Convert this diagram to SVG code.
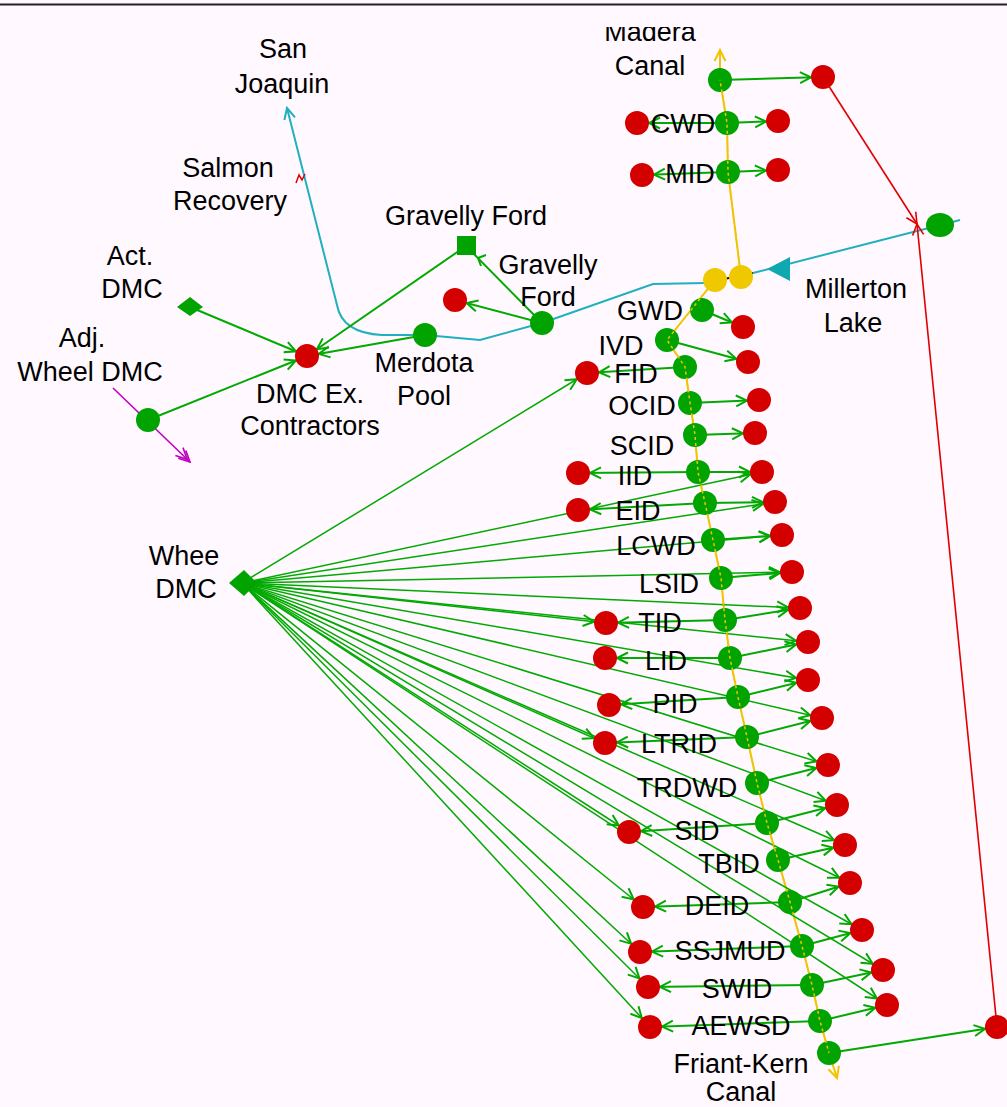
<svg xmlns="http://www.w3.org/2000/svg" width="1007" height="1107" viewBox="0 0 1007 1107">
<style>
text{font-family:"Liberation Sans",Arial,sans-serif;font-size:27px;fill:#000;text-anchor:middle}
.g{fill:#00a300}
.r{fill:#d40000}
.y{fill:#f0c800}
.gl{stroke:#00aa00;stroke-width:2;fill:none;marker-end:url(#ag)}
.fan{stroke:#00aa00;stroke-width:1.5;fill:none;marker-end:url(#ag)}
.rl{stroke:#e00000;stroke-width:1.6;fill:none;marker-end:url(#ar)}
.yl{stroke:#f0c400;stroke-width:2;fill:none}
.cy{stroke:#20b0c0;stroke-width:2;fill:none}
</style>
<defs>
<marker id="ag" viewBox="0 0 30 14" markerWidth="30" markerHeight="14" refX="26" refY="7" orient="auto" markerUnits="userSpaceOnUse"><path d="M3,1.5 L14,7 L3,12.5" fill="none" stroke="#00aa00" stroke-width="2"/></marker>
<marker id="ar" viewBox="0 0 16 14" markerWidth="16" markerHeight="14" refX="14" refY="7" orient="auto" markerUnits="userSpaceOnUse"><path d="M3,1.5 L14,7 L3,12.5" fill="none" stroke="#e00000" stroke-width="1.6"/></marker>
<marker id="ay" viewBox="0 0 16 14" markerWidth="16" markerHeight="14" refX="14" refY="7" orient="auto" markerUnits="userSpaceOnUse"><path d="M3,1.5 L14,7 L3,12.5" fill="none" stroke="#f0c400" stroke-width="2"/></marker>
<marker id="ac" viewBox="0 0 16 14" markerWidth="16" markerHeight="14" refX="14" refY="7" orient="auto" markerUnits="userSpaceOnUse"><path d="M3,1.5 L14,7 L3,12.5" fill="none" stroke="#20b0c0" stroke-width="2"/></marker>
<marker id="am" viewBox="0 0 20 14" markerWidth="20" markerHeight="14" refX="18" refY="7" orient="auto" markerUnits="userSpaceOnUse"><path d="M3,1.5 L14,7 L3,12.5 M7,1.5 L18,7 L7,12.5" fill="none" stroke="#c000c0" stroke-width="1.6"/></marker>
<clipPath id="clipTop"><rect x="0" y="27" width="1007" height="1080"/></clipPath>
</defs>
<rect width="1007" height="1107" fill="#fff8fe"/>
<line x1="0" y1="4.5" x2="1007" y2="4.5" stroke="#222" stroke-width="2"/>

<g id="connectors">
  <!-- yellow canal -->
  <path class="yl" d="M741,277 L728,172 L727,123 L720,80 L720,50" marker-end="url(#ay)"/>
  <path class="yl" d="M715,280 L667,340 L685,367 L690,403 L695,435 L698,472 L705,503 L713,540 L721,578 L725,620 L730,658 L738,697 L747,737 L757,783 L767,823 L778,860 L790,902 L802,946 L812,985 L820,1021 L829,1053 L837,1078" marker-end="url(#ay)"/>
  <!-- cyan river -->
  <path class="cy" d="M960,220 L753,273"/>
  <polygon points="767,269 790,257 790,281" fill="#10a8b0"/>
  <line x1="705" y1="283" x2="753" y2="273" stroke="#111" stroke-width="2"/>
  <path class="cy" d="M705,283 L653,284 L542,323 L480,340 L425,335 L382,335 Q342,333 337,305 L287,108" marker-end="url(#ac)"/>
  <!-- red lines -->
  <path class="rl" d="M823,77 L917,224"/>
  <path class="rl" d="M997,1027 L917,224"/>
  <!-- magenta -->
  <path d="M113,388 L190,462" stroke="#c000c0" stroke-width="1.6" fill="none" marker-end="url(#am)"/>
  <!-- upper left green -->
  <path class="gl" d="M190,307 L307,356"/>
  <path class="gl" d="M148,420 L307,356"/>
  <path class="gl" d="M466,246 L307,356"/>
  <path class="gl" d="M425,335 L307,356"/>
  <path class="gl" d="M542,323 L466,246" style="marker-end:none"/>
  <path d="M478,258 L486,255 M478,258 L481,266" stroke="#00aa00" stroke-width="2" fill="none"/>
  <path class="gl" d="M542,323 L455,300"/>
  <!-- rows -->
  <path class="gl" d="M720,80 L823,77"/>
  <path class="gl" d="M727,123 L778,121"/>
  <path class="gl" d="M727,123 L637,123"/>
  <path class="gl" d="M728,172 L778,170"/>
  <path class="gl" d="M728,172 L642,175"/>
  <path class="gl" d="M702,310 L743,327"/>
  <path class="gl" d="M667,340 L748,362"/>
  <path class="gl" d="M685,367 L587,373"/>
  <path class="gl" d="M690,403 L759,400"/>
  <path class="gl" d="M695,435 L755,433"/>
  <path class="gl" d="M698,472 L762,472"/>
  <path class="gl" d="M698,472 L578,473"/>
  <path class="gl" d="M705,503 L775,502"/>
  <path class="gl" d="M705,503 L578,510"/>
  <path class="gl" d="M713,540 L782,535"/>
  <path class="gl" d="M721,578 L792,572"/>
  <path class="gl" d="M725,620 L800,608"/>
  <path class="gl" d="M725,620 L606,623"/>
  <path class="gl" d="M730,658 L808,642"/>
  <path class="gl" d="M730,658 L605,658"/>
  <path class="gl" d="M738,697 L808,680"/>
  <path class="gl" d="M738,697 L609,705"/>
  <path class="gl" d="M747,737 L822,718"/>
  <path class="gl" d="M747,737 L605,743"/>
  <path class="gl" d="M757,783 L828,765"/>
  <path class="gl" d="M767,823 L837,805"/>
  <path class="gl" d="M767,823 L629,832"/>
  <path class="gl" d="M778,860 L845,845"/>
  <path class="gl" d="M790,902 L850,883"/>
  <path class="gl" d="M790,902 L643,907"/>
  <path class="gl" d="M802,946 L862,930"/>
  <path class="gl" d="M802,946 L640,952"/>
  <path class="gl" d="M812,985 L883,970"/>
  <path class="gl" d="M812,985 L648,987"/>
  <path class="gl" d="M820,1021 L887,1005"/>
  <path class="gl" d="M820,1021 L650,1027"/>
  <path class="gl" d="M829,1053 L997,1027"/>
  <!-- fan from Whee DMC -->
  <path class="fan" d="M242,583 L587,373"/>
  <path class="fan" d="M242,583 L762,472"/>
  <path class="fan" d="M242,583 L775,502"/>
  <path class="fan" d="M242,583 L782,535"/>
  <path class="fan" d="M242,583 L792,572"/>
  <path class="fan" d="M242,583 L800,608"/>
  <path class="fan" d="M242,583 L606,623"/>
  <path class="fan" d="M242,583 L808,642"/>
  <path class="fan" d="M242,583 L808,680"/>
  <path class="fan" d="M242,583 L822,718"/>
  <path class="fan" d="M242,583 L605,743"/>
  <path class="fan" d="M242,583 L828,765"/>
  <path class="fan" d="M242,583 L837,805"/>
  <path class="fan" d="M242,583 L629,832"/>
  <path class="fan" d="M242,583 L845,845"/>
  <path class="fan" d="M242,583 L850,883"/>
  <path class="fan" d="M242,583 L643,907"/>
  <path class="fan" d="M242,583 L862,930"/>
  <path class="fan" d="M242,583 L640,952"/>
  <path class="fan" d="M242,583 L883,970"/>
  <path class="fan" d="M242,583 L648,987"/>
  <path class="fan" d="M242,583 L887,1005"/>
  <path class="fan" d="M242,583 L650,1027"/>
  <!-- salmon recovery mark -->
  <path d="M296,183 L299,175 L302,180 L305,174" stroke="#e00000" stroke-width="1.5" fill="none"/>
</g>

<g id="nodes">
  <g id="madera-canal"><circle class="g" cx="720" cy="80" r="12"/><text x="650" y="41" clip-path="url(#clipTop)">Madera</text><text x="650" y="75">Canal</text></g>
  <g id="madera-demand"><circle class="r" cx="823" cy="77" r="12"/></g>
  <g id="cwd"><circle class="r" cx="637" cy="123" r="12"/><circle class="g" cx="727" cy="123" r="12"/><circle class="r" cx="778" cy="121" r="12"/><text x="683" y="133">CWD</text></g>
  <g id="mid"><circle class="r" cx="642" cy="175" r="12"/><circle class="g" cx="728" cy="172" r="12"/><circle class="r" cx="778" cy="170" r="12"/><text x="690" y="183">MID</text></g>
  <g id="millerton-lake"><ellipse class="g" cx="940" cy="225" rx="14" ry="12"/><text x="856" y="298">Millerton</text><text x="853" y="332">Lake</text></g>
  <g id="junction"><circle class="y" cx="715" cy="280" r="12"/><circle class="y" cx="741" cy="277" r="12"/></g>
  <g id="gwd"><circle class="g" cx="702" cy="310" r="12"/><circle class="r" cx="743" cy="327" r="12"/><text x="650" y="320">GWD</text></g>
  <g id="ivd"><circle class="g" cx="667" cy="340" r="12"/><circle class="r" cx="748" cy="362" r="12"/><text x="621" y="355">IVD</text></g>
  <g id="fid"><circle class="r" cx="587" cy="373" r="12"/><circle class="g" cx="685" cy="367" r="12"/><text x="636" y="383">FID</text></g>
  <g id="ocid"><circle class="g" cx="690" cy="403" r="12"/><circle class="r" cx="759" cy="400" r="12"/><text x="642" y="415">OCID</text></g>
  <g id="scid"><circle class="g" cx="695" cy="435" r="12"/><circle class="r" cx="755" cy="433" r="12"/><text x="642" y="455">SCID</text></g>
  <g id="iid"><circle class="r" cx="578" cy="473" r="12"/><circle class="g" cx="698" cy="472" r="12"/><circle class="r" cx="762" cy="472" r="12"/><text x="635" y="485">IID</text></g>
  <g id="eid"><circle class="r" cx="578" cy="510" r="12"/><circle class="g" cx="705" cy="503" r="12"/><circle class="r" cx="775" cy="502" r="12"/><text x="638" y="520">EID</text></g>
  <g id="lcwd"><circle class="g" cx="713" cy="540" r="12"/><circle class="r" cx="782" cy="535" r="12"/><text x="656" y="555">LCWD</text></g>
  <g id="lsid"><circle class="g" cx="721" cy="578" r="12"/><circle class="r" cx="792" cy="572" r="12"/><text x="669" y="593">LSID</text></g>
  <g id="tid"><circle class="r" cx="606" cy="623" r="12"/><circle class="g" cx="725" cy="620" r="12"/><circle class="r" cx="800" cy="608" r="12"/><text x="660" y="632">TID</text></g>
  <g id="lid"><circle class="r" cx="605" cy="658" r="12"/><circle class="g" cx="730" cy="658" r="12"/><circle class="r" cx="808" cy="642" r="12"/><text x="666" y="670">LID</text></g>
  <g id="pid"><circle class="r" cx="609" cy="705" r="12"/><circle class="g" cx="738" cy="697" r="12"/><circle class="r" cx="808" cy="680" r="12"/><text x="675" y="713">PID</text></g>
  <g id="ltrid"><circle class="r" cx="605" cy="743" r="12"/><circle class="g" cx="747" cy="737" r="12"/><circle class="r" cx="822" cy="718" r="12"/><text x="679" y="753">LTRID</text></g>
  <g id="trdwd"><circle class="g" cx="757" cy="783" r="12"/><circle class="r" cx="828" cy="765" r="12"/><text x="687" y="797">TRDWD</text></g>
  <g id="sid"><circle class="r" cx="629" cy="832" r="12"/><circle class="g" cx="767" cy="823" r="12"/><circle class="r" cx="837" cy="805" r="12"/><text x="697" y="840">SID</text></g>
  <g id="tbid"><circle class="g" cx="778" cy="860" r="12"/><circle class="r" cx="845" cy="845" r="12"/><text x="729" y="873">TBID</text></g>
  <g id="deid"><circle class="r" cx="643" cy="907" r="12"/><circle class="g" cx="790" cy="902" r="12"/><circle class="r" cx="850" cy="883" r="12"/><text x="717" y="915">DEID</text></g>
  <g id="ssjmud"><circle class="r" cx="640" cy="952" r="12"/><circle class="g" cx="802" cy="946" r="12"/><circle class="r" cx="862" cy="930" r="12"/><text x="730" y="960">SSJMUD</text></g>
  <g id="swid"><circle class="r" cx="648" cy="987" r="12"/><circle class="g" cx="812" cy="985" r="12"/><circle class="r" cx="883" cy="970" r="12"/><text x="737" y="998">SWID</text></g>
  <g id="aewsd"><circle class="r" cx="650" cy="1027" r="12"/><circle class="g" cx="820" cy="1021" r="12"/><circle class="r" cx="887" cy="1005" r="12"/><text x="741" y="1035">AEWSD</text></g>
  <g id="friant-kern-canal"><circle class="g" cx="829" cy="1053" r="12"/><text x="741" y="1073">Friant-Kern</text><text x="741" y="1101">Canal</text></g>
  <g id="friant-kern-demand"><circle class="r" cx="997" cy="1027" r="12"/></g>
  <g id="san-joaquin"><text x="283" y="58">San</text><text x="282" y="93">Joaquin</text></g>
  <g id="salmon-recovery"><text x="228" y="177">Salmon</text><text x="230" y="210">Recovery</text></g>
  <g id="gravelly-ford-1"><rect class="g" x="457" y="236" width="19" height="19"/><text x="466" y="225">Gravelly Ford</text></g>
  <g id="gravelly-ford-2"><circle class="g" cx="542" cy="323" r="12"/><circle class="r" cx="455" cy="300" r="12"/><text x="548" y="274">Gravelly</text><text x="548" y="306">Ford</text></g>
  <g id="merdota-pool"><circle class="g" cx="425" cy="335" r="12"/><text x="424" y="372">Merdota</text><text x="424" y="405">Pool</text></g>
  <g id="dmc-ex-contractors"><circle class="r" cx="307" cy="356" r="12"/><text x="310" y="403">DMC Ex.</text><text x="310" y="435">Contractors</text></g>
  <g id="act-dmc"><polygon class="g" points="177,307 190,297 203,307 190,316"/><text x="130" y="265">Act.</text><text x="132" y="298">DMC</text></g>
  <g id="adj-wheel-dmc"><circle class="g" cx="148" cy="420" r="12"/><text x="82" y="347">Adj.</text><text x="90" y="381">Wheel DMC</text></g>
  <g id="whee-dmc"><polygon class="g" points="229,583 244,570 257,583 244,596"/><text x="184" y="565">Whee</text><text x="186" y="598">DMC</text></g>
</g>

<g id="connectors-overlay">
  <path d="M715,280 L667,340 L685,367 L690,403 L695,435 L698,472 L705,503 L713,540 L721,578 L725,620 L730,658 L738,697 L747,737 L757,783 L767,823 L778,860 L790,902 L802,946 L812,985 L820,1021 L829,1053" stroke="#f0c400" stroke-width="1.5" fill="none" stroke-dasharray="3,3"/>
  <path d="M741,277 L728,172 L727,123 L720,80" stroke="#f0c400" stroke-width="1.5" fill="none" stroke-dasharray="3,3"/>
</g>
</svg>
